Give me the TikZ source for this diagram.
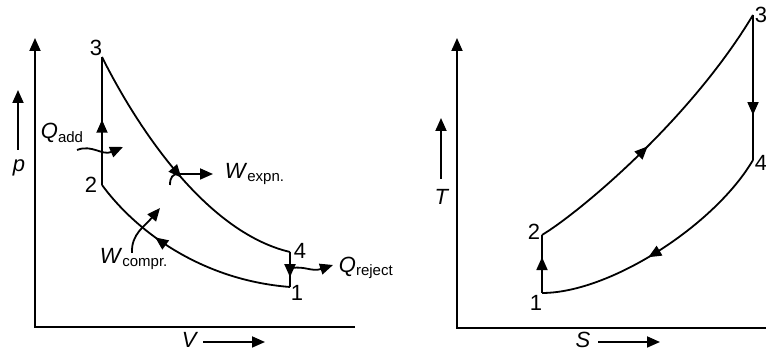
\documentclass[tikz,border=0pt]{standalone}
\usepackage{fontspec}
\setmainfont{Liberation Sans}
\usetikzlibrary{arrows.meta,decorations.markings}
\newcommand{\qsub}[2]{\textit{#1}\raisebox{-0.3ex}{\fontsize{7.5}{8}\selectfont #2}}

\begin{document}
\begin{tikzpicture}[x=0.5pt,y=-0.5pt,line width=0.9pt,
  >={Triangle[length=6.5pt,width=5.5pt]},
  lbl/.style={font=\fontsize{11}{12}\selectfont,inner sep=1pt},
  midarrow/.style={postaction={decorate},decoration={markings,
    mark=at position #1 with {\arrow{Triangle[length=6.5pt,width=5.5pt]}}}}]
\useasboundingbox (0,0) rectangle (766,356);
% p-V diagram
\coordinate (pV0) at (35,327); \coordinate (pTop) at (35,38); \coordinate (vEnd) at (355,327);
\draw[<-] (pTop) -- (pV0) -- (vEnd);
\coordinate (s1) at (290,287); \coordinate (s2) at (102,185);
\coordinate (s3) at (102,57);  \coordinate (s4) at (290,252);
\draw[midarrow=0.51] (s2) -- (s3);
\draw[midarrow=0.52] (s3) .. controls (136,125) and (205,232) .. (s4);
\draw[midarrow=0.72] (s4) -- (s1);
\draw[midarrow=0.66] (s1) .. controls (200,280) and (135,230) .. (s2);
\node[lbl] (n1) at (297,293) {1}; \node[lbl] (n2) at (91,185) {2};
\node[lbl] (n3) at (96,48) {3};   \node[lbl] (n4) at (300,251) {4};
% heat and work
\coordinate (qa0) at (77,150); \coordinate (qa1) at (123,147);
\draw[->] (qa0) .. controls (92,144) and (102,156) .. (qa1);
\coordinate (we0) at (170,185); \coordinate (we1) at (178,174); \coordinate (we2) at (213,174);
\draw[->] (we0) .. controls (170,177) and (173,174) .. (we1) -- (we2);
\coordinate (wc0) at (132,253); \coordinate (wc1) at (160,208);
\draw[->] (wc0) .. controls (131,234) and (145,226) .. (wc1);
\coordinate (qr0) at (292,268); \coordinate (qr1) at (333,265);
\draw[->] (qr0) .. controls (305,266) and (312,272) .. (qr1);
\node[lbl,anchor=west] (qadd) at (38,133) {\qsub{Q}{add}};
\node[lbl,anchor=west] (wexp) at (222,174) {\qsub{W}{expn.}};
\node[lbl,anchor=west] (wcomp) at (97,259) {\qsub{W}{compr.}};
\node[lbl,anchor=west] (qrej) at (336,268) {\qsub{Q}{reject}};
\node[lbl] (plab) at (19,168) {\textit{p}};
\coordinate (pa0) at (18,150); \coordinate (pa1) at (18,90);
\draw[->] (pa0) -- (pa1);
\node[lbl] (vlab) at (190,340) {\textit{V}};
\coordinate (va0) at (203,342); \coordinate (va1) at (265,342);
\draw[->] (va0) -- (va1);
% T-s diagram
\coordinate (T0) at (457,328); \coordinate (tTop) at (457,38); \coordinate (sEnd) at (770,328);
\draw[<-] (tTop) -- (T0) -- (sEnd);
\coordinate (t1) at (542,293); \coordinate (t2) at (542,235);
\coordinate (t3) at (753,15);  \coordinate (t4) at (753,160);
\draw[midarrow=0.62] (t1) -- (t2);
\draw[midarrow=0.45] (t2) .. controls (580,212) and (690,120) .. (t3);
\draw[midarrow=0.69] (t3) -- (t4);
\draw[midarrow=0.56] (t4) .. controls (715,225) and (610,293) .. (t1);
\node[lbl] (m1) at (536,303) {1}; \node[lbl] (m2) at (534,232) {2};
\node[lbl,anchor=west,inner sep=0pt] (m3) at (754,15) {3};
\node[lbl,anchor=west,inner sep=0pt] (m4) at (754,163) {4};
\node[lbl] (tlab) at (442,197) {\textit{T}};
\coordinate (ta0) at (441,179); \coordinate (ta1) at (441,118);
\draw[->] (ta0) -- (ta1);
\node[lbl] (slab) at (583,340) {\textit{S}};
\coordinate (sa0) at (598,342); \coordinate (sa1) at (660,342);
\draw[->] (sa0) -- (sa1);
\end{tikzpicture}
\end{document}
